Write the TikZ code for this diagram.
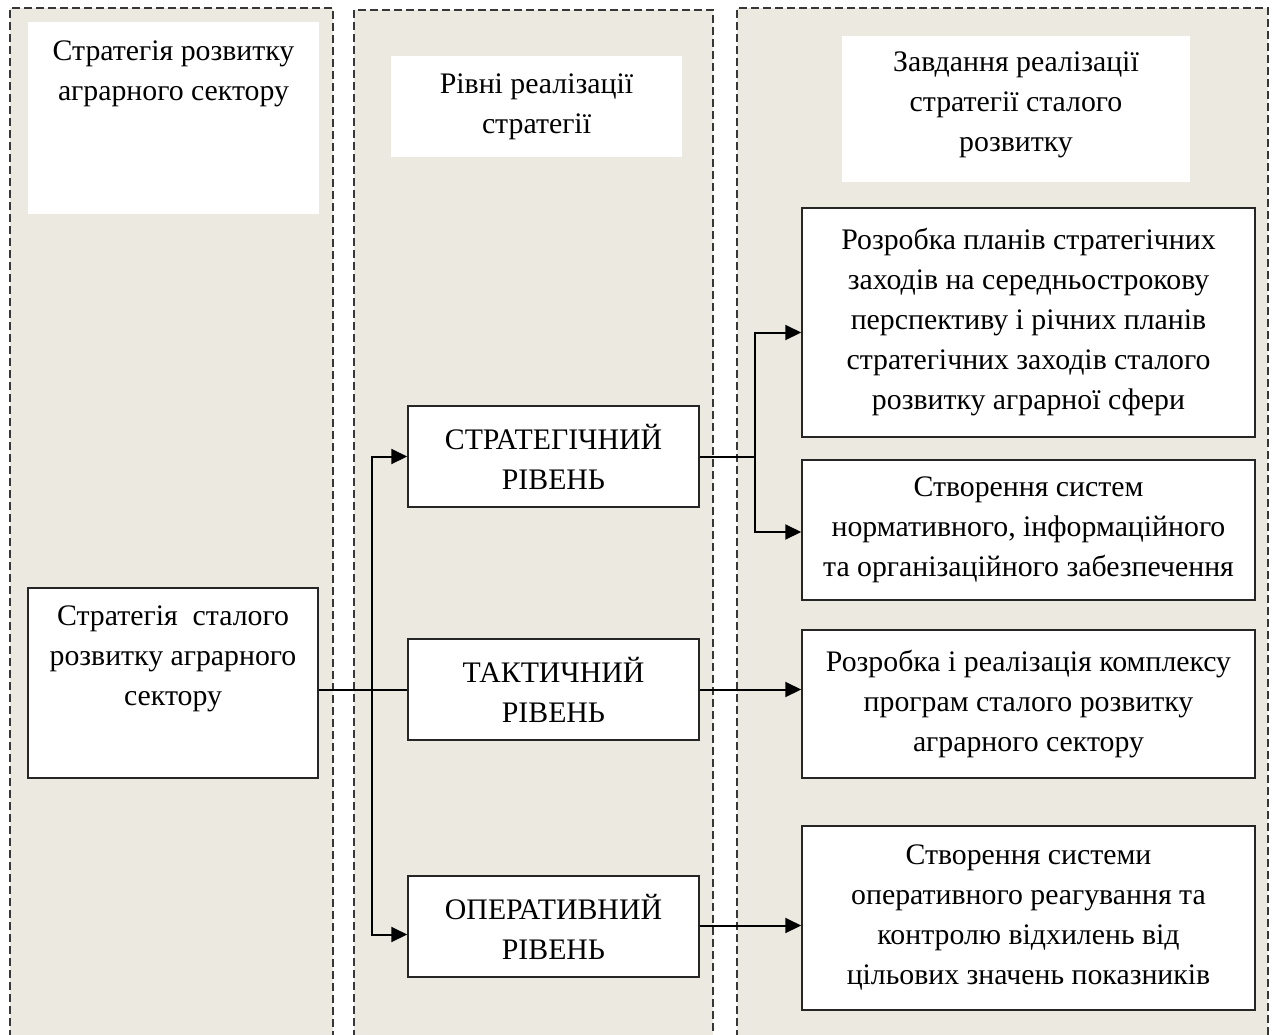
\documentclass[tikz,border=0pt]{standalone}
\usepackage{fontspec}
\setmainfont{Liberation Serif}
\usetikzlibrary{arrows.meta,calc}
\definecolor{colbg}{RGB}{236,233,224}
\definecolor{dashc}{RGB}{55,55,55}
\begin{document}
\begin{tikzpicture}[x=1pt,y=-1pt,
  column/.style={fill=colbg,draw=none},
  colborder/.style={draw=dashc,line width=1.3pt,dash pattern=on 8pt off 4pt},
  txtfont/.style={font=\fontsize{29.8}{40}\selectfont},
  hdr/.style={fill=white,draw=none,inner sep=0pt,align=center,txtfont},
  box/.style={fill=white,draw=black!85,line width=1.5pt,inner sep=0pt,align=center,txtfont},
  lbl/.style={inner sep=0pt,align=center,txtfont},
  conn/.style={line width=2pt,black},
  arr/.style={conn,-{Triangle[length=16pt,width=15pt]}}
]
\useasboundingbox (0,0) rectangle (1272,1034);
\clip (0,0) rectangle (1272,1034);

% columns
\fill[column] (10,8) rectangle (333,1050);
\draw[colborder] (10,1050) -- (10,8) -- (333,8) -- (333,1050);
\fill[column] (354,10) rectangle (713,1050);
\draw[colborder] (354,1050) -- (354,10) -- (713,10) -- (713,1050);
\fill[column] (737,8) rectangle (1268,1050);
\draw[colborder] (737,1050) -- (737,8) -- (1268,8) -- (1268,1050);

% headers
\node[hdr, minimum width=291pt, minimum height=192pt] (h1) at (173.5,118) {};
\node[lbl] (h1t) at (173.5,74) {Стратегія розвитку\\аграрного сектору};
\node[hdr, minimum width=291pt, minimum height=101pt] (h2) at (536.5,106.5) {Рівні реалізації\\стратегії};
\node[hdr, minimum width=348pt, minimum height=146pt] (h3) at (1016,109) {};
\node[lbl] (h3t) at (1016,105) {Завдання реалізації\\стратегії сталого\\розвитку};

% left box
\node[box, minimum width=290pt, minimum height=190pt] (s) at (173,683) {};
\node[lbl] (st) at (173,659) {Стратегія~ сталого\\розвитку аграрного\\сектору};

% levels
\node[box, minimum width=291pt, minimum height=101pt] (str) at (553.5,456.5) {СТРАТЕГІЧНИЙ\\РІВЕНЬ};
\node[box, minimum width=291pt, minimum height=101pt] (tac) at (553.5,689.5) {ТАКТИЧНИЙ\\РІВЕНЬ};
\node[box, minimum width=291pt, minimum height=101pt] (op) at (553.5,926.5) {ОПЕРАТИВНИЙ\\РІВЕНЬ};

% tasks
\node[box, minimum width=453pt, minimum height=229pt] (p1) at (1028.5,322.5) {Розробка планів стратегічних\\заходів на середньострокову\\перспективу і річних планів\\стратегічних заходів сталого\\розвитку аграрної сфери};
\node[box, minimum width=453pt, minimum height=140pt] (p2) at (1028.5,530) {Створення систем\\нормативного, інформаційного\\та організаційного забезпечення};
\node[box, minimum width=453pt, minimum height=148pt] (p3) at (1028.5,704) {Розробка і реалізація комплексу\\програм сталого розвитку\\аграрного сектору};
\node[box, minimum width=453pt, minimum height=184pt] (p4) at (1028.5,918) {Створення системи\\оперативного реагування та\\контролю відхилень від\\цільових значень показників};

% connectors
\coordinate (j1) at (372,689.5);
\coordinate (j2) at (755,456.5);
\draw[conn] (s.east |- j1) -- (tac.west);
\draw[arr] (j1) |- (str.west);
\draw[arr] (j1) |- ([yshift=-8pt]op.west);
\draw[conn] (str.east) -- (j2);
\draw[arr] (j2) |- ([yshift=-10pt]p1.west);
\draw[arr] (j2) |- ([yshift=-2pt]p2.west);
\draw[arr] (tac.east) -- (tac.east -| p3.west);
\draw[arr] ([yshift=1pt]op.east) -- ([yshift=1pt]op.east -| p4.west);
\end{tikzpicture}
\end{document}
